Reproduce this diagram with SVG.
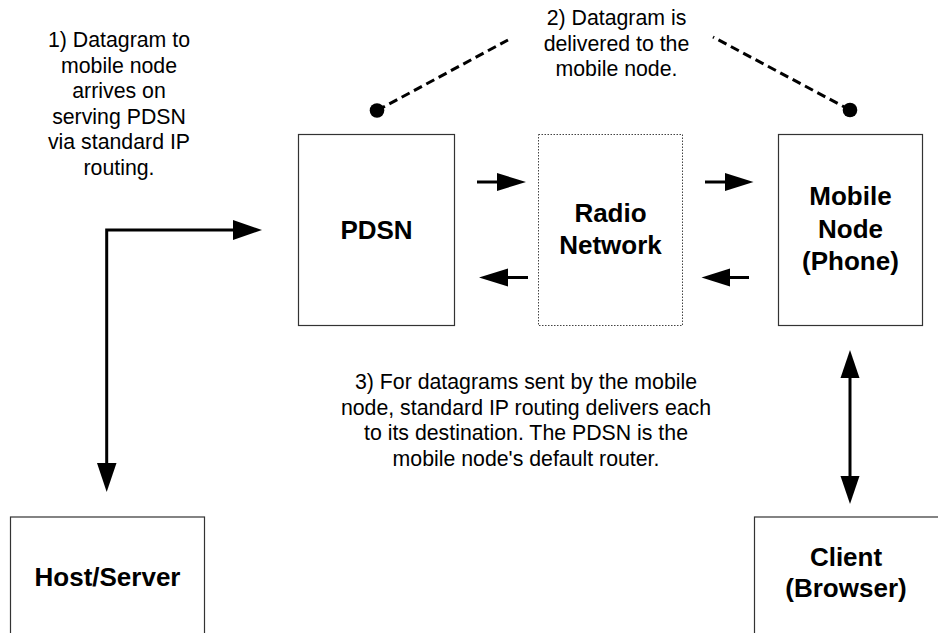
<svg xmlns="http://www.w3.org/2000/svg" width="938" height="633" viewBox="0 0 938 633">
<style>
.box{fill:#fff;stroke:#333;stroke-width:1.2}
.dotted{fill:#fff;stroke:#444;stroke-width:1;stroke-dasharray:1.5 1.5}
.lbl{font-family:"Liberation Sans",Arial,sans-serif;font-weight:bold;font-size:26px;fill:#000;text-anchor:middle}
.note{font-family:"Liberation Sans",Arial,sans-serif;font-size:21.3px;fill:#000;text-anchor:middle}
.ln{stroke:#000;stroke-width:3;fill:none}
.dash{stroke:#000;stroke-width:3;fill:none;stroke-dasharray:9 5}
.head{fill:#000}
</style>
<rect width="938" height="633" fill="#fff"/>
<g id="pdsn">
<rect class="box" x="298.5" y="134.5" width="156" height="191"/>
<text class="lbl" x="376.5" y="239">PDSN</text>
</g>
<g id="radio">
<rect class="dotted" x="538.5" y="134.5" width="144" height="191"/>
<text class="lbl" x="610.5" y="221.5">Radio</text>
<text class="lbl" x="610.5" y="253.5">Network</text>
</g>
<g id="mobile">
<rect class="box" x="778.5" y="134.5" width="144" height="191"/>
<text class="lbl" x="850.5" y="205">Mobile</text>
<text class="lbl" x="850.5" y="237.5">Node</text>
<text class="lbl" x="850.5" y="270">(Phone)</text>
</g>
<g id="host">
<rect class="box" x="10.5" y="517" width="194" height="130"/>
<text class="lbl" x="107.5" y="586">Host/Server</text>
</g>
<g id="client">
<rect class="box" x="754.5" y="517" width="200" height="130"/>
<text class="lbl" x="846" y="566">Client</text>
<text class="lbl" x="846" y="597">(Browser)</text>
</g>
<g id="notes">
<text class="note" x="119" y="47">1) Datagram to</text>
<text class="note" x="119" y="72.6">mobile node</text>
<text class="note" x="119" y="98.2">arrives on</text>
<text class="note" x="119" y="123.8">serving PDSN</text>
<text class="note" x="119" y="149.4">via standard IP</text>
<text class="note" x="119" y="175">routing.</text>
<text class="note" x="616.5" y="25">2) Datagram is</text>
<text class="note" x="616.5" y="50.6">delivered to the</text>
<text class="note" x="616.5" y="76.2">mobile node.</text>
<text class="note" x="526" y="389">3) For datagrams sent by the mobile</text>
<text class="note" x="526" y="414.6">node, standard IP routing delivers each</text>
<text class="note" x="526" y="440.2">to its destination. The PDSN is the</text>
<text class="note" x="526" y="465.8">mobile node's default router.</text>
</g>
<g id="connectors">
<path class="ln" d="M106.7,464 L106.7,230 L234,230"/>
<polygon class="head" points="233,220 262,230 233,240"/>
<polygon class="head" points="97,463 116.5,463 106.7,492"/>
<path class="ln" d="M477,182 L498,182"/>
<polygon class="head" points="497,173 526,182 497,191"/>
<path class="ln" d="M507,277.5 L528,277.5"/>
<polygon class="head" points="508,268.5 479,277.5 508,286.5"/>
<path class="ln" d="M705,182 L726,182"/>
<polygon class="head" points="725,173 753.5,182 725,191"/>
<path class="ln" d="M729,277.5 L749,277.5"/>
<polygon class="head" points="730,268.5 701.5,277.5 730,286.5"/>
<path class="ln" d="M850,377 L850,477"/>
<polygon class="head" points="840.5,378 850,350 859.5,378"/>
<polygon class="head" points="840.5,476 850,504 859.5,476"/>
<path class="dash" d="M377,110.5 L508,40"/>
<circle class="head" cx="377" cy="110.5" r="7.3"/>
<path class="dash" d="M850,110 L713,37"/>
<circle class="head" cx="850" cy="110" r="7.3"/>
</g>
</svg>
